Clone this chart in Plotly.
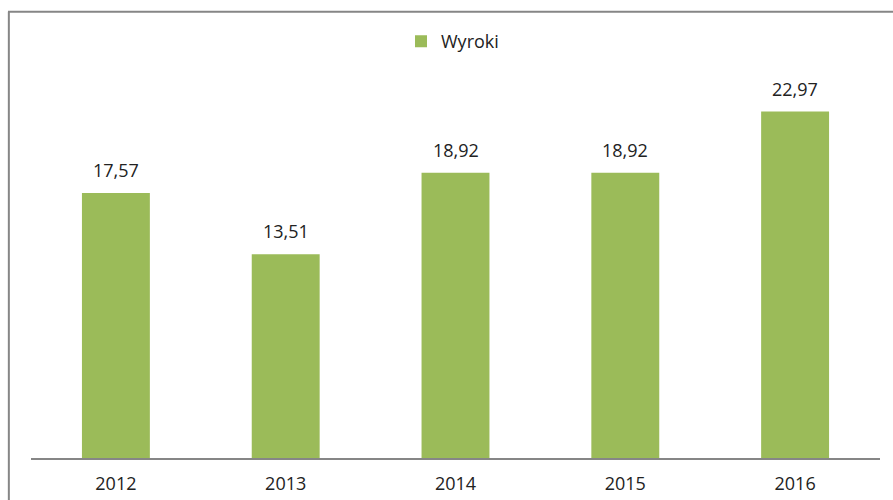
import plotly.graph_objects as go

years = ["2012", "2013", "2014", "2015", "2016"]
wyroki = [17.57, 13.51, 18.92, 18.92, 22.97]
labels = [f"{v:.2f}".replace(".", ",") for v in wyroki]

GREEN = "#9BBB59"
GRAY = "#868686"
FONT = "Open Sans"

fig = go.Figure()
fig.add_trace(go.Bar(
    x=years, y=wyroki, name="Wyroki",
    marker=dict(color=GREEN, line=dict(width=0)),
    width=0.4,
    hoverinfo="x+y",
))

for i, (y, t) in enumerate(zip(wyroki, labels)):
    fig.add_annotation(x=i, y=y, text=t, showarrow=False, yanchor="bottom",
                       yshift=9, font=dict(family=FONT, size=18, color="#222222"))

W, H = 893, 500
left, right, top, bottom = 31, 880, 81.3, 458
pw, ph = right - left, bottom - top
fig.update_layout(
    width=W, height=H,
    margin=dict(l=left, r=W - right, t=top, b=H - bottom, autoexpand=False),
    paper_bgcolor="white", plot_bgcolor="white",
    font=dict(family=FONT, size=18, color="#222222"),
    showlegend=True,
    legend=dict(orientation="h", x=0.5 - 3 / pw, xanchor="center",
                y=(bottom - 42) / ph, yanchor="middle",
                font=dict(family=FONT, size=18, color="#222222"),
                itemwidth=30),
    xaxis=dict(type="category", range=[-0.5, 4.5], showline=True, linecolor=GRAY,
               linewidth=2, ticks="outside", ticklen=8, tickcolor="white",
               showgrid=False, tickfont=dict(family=FONT, size=18, color="#222222")),
    yaxis=dict(range=[0, 25], visible=False, showgrid=False, zeroline=False),
    bargap=0.6,
)

bx = (8 - left) / pw
by = (bottom - 12) / ph
fig.add_shape(type="line", xref="paper", yref="paper", x0=bx + 0.001, x1=bx + 0.001,
              y0=by, y1=-0.3, line=dict(color=GRAY, width=2))
fig.add_shape(type="line", xref="paper", yref="paper", x0=bx, x1=1.1, y0=by, y1=by,
              line=dict(color=GRAY, width=2))

fig.write_html("out.html", config={"displayModeBar": False},
               post_script="document.body.style.margin='0';document.body.style.overflow='hidden';")
